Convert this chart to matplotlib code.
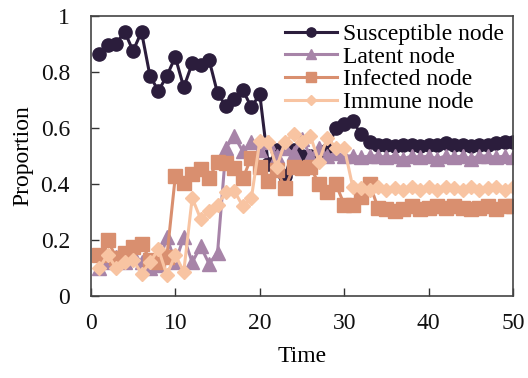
import matplotlib
matplotlib.use("Agg")
import matplotlib.pyplot as plt

t = list(range(1, 51))

susceptible = [0.864, 0.896, 0.90, 0.944, 0.875, 0.943, 0.786, 0.732, 0.786, 0.853,
               0.745, 0.83, 0.824, 0.843, 0.724, 0.677, 0.702, 0.735, 0.674, 0.72,
               0.47, 0.52, 0.43, 0.52, 0.50, 0.50, 0.49, 0.52, 0.60, 0.613,
               0.624, 0.577, 0.548, 0.54, 0.54, 0.535, 0.54, 0.54, 0.535, 0.54,
               0.54, 0.545, 0.54, 0.54, 0.535, 0.54, 0.54, 0.545, 0.55, 0.55]
latent = [0.10, 0.12, 0.14, 0.12, 0.15, 0.12, 0.10, 0.11, 0.21, 0.12,
          0.21, 0.12, 0.177, 0.115, 0.154, 0.53, 0.57, 0.516, 0.55, 0.52,
          0.55, 0.50, 0.53, 0.51, 0.56, 0.50, 0.53, 0.50, 0.51, 0.50,
          0.50, 0.495, 0.50, 0.50, 0.495, 0.50, 0.49, 0.50, 0.495, 0.50,
          0.49, 0.50, 0.495, 0.50, 0.49, 0.50, 0.50, 0.495, 0.50, 0.495]
infected = [0.147, 0.20, 0.136, 0.155, 0.176, 0.186, 0.13, 0.12, 0.14, 0.427,
            0.405, 0.434, 0.455, 0.42, 0.48, 0.476, 0.458, 0.42, 0.494, 0.46,
            0.41, 0.45, 0.386, 0.46, 0.458, 0.46, 0.40, 0.37, 0.40, 0.326,
            0.326, 0.355, 0.40, 0.315, 0.31, 0.305, 0.31, 0.32, 0.31, 0.315,
            0.32, 0.315, 0.32, 0.315, 0.31, 0.315, 0.32, 0.31, 0.32, 0.32]
immune = [0.10, 0.147, 0.10, 0.12, 0.13, 0.08, 0.12, 0.167, 0.075, 0.147,
          0.086, 0.35, 0.275, 0.305, 0.326, 0.37, 0.374, 0.32, 0.348, 0.553,
          0.55, 0.46, 0.55, 0.58, 0.55, 0.57, 0.48, 0.565, 0.53, 0.53,
          0.39, 0.385, 0.38, 0.39, 0.38, 0.385, 0.38, 0.39, 0.38, 0.39,
          0.38, 0.39, 0.385, 0.38, 0.39, 0.38, 0.385, 0.39, 0.38, 0.39]

labels = ["Susceptible node", "Latent node", "Infected node", "Immune node"]
colors = ["#2b1d3c", "#a784a8", "#d98f6f", "#f8c4a2"]
markers = ["o", "^", "s", "D"]
msizes = [9.5, 9.5, 9.5, 7.5]

plt.rcParams['font.family'] = ['Liberation Serif', 'DejaVu Serif']

fig = plt.figure(figsize=(5.28, 3.78), dpi=100)
ax = fig.add_axes([0.172, 0.217, 0.8, 0.741])

series = [susceptible, latent, infected, immune]
for vals, lab, c, m, ms in zip(series, labels, colors, markers, msizes):
    ax.plot(t, vals, color=c, marker=m, markersize=ms, linewidth=2.2, label=lab)

ax.set_xlim(0, 50)
ax.set_ylim(0, 1)
ax.set_xticks([0, 10, 20, 30, 40, 50])
ax.set_xticklabels(["0", "10", "20", "30", "40", "50"])
ax.set_yticks([0, 0.2, 0.4, 0.6, 0.8, 1.0])
ax.set_yticklabels(["0", "0.2", "0.4", "0.6", "0.8", "1"])
ax.tick_params(direction='in', length=6, width=1, labelsize=17, top=False, right=False,
               colors='#333333', labelcolor='#111111')
ax.tick_params(axis='x', pad=12)
ax.tick_params(axis='y', pad=15)
for s in ax.spines.values():
    s.set_color('#444444')
    s.set_linewidth(1.2)

ax.set_xlabel("Time", fontsize=17, labelpad=9)
ax.set_ylabel("Proportion", fontsize=17, labelpad=5)

ax.legend(loc='upper right', bbox_to_anchor=(1.005, 1.015), frameon=False,
          fontsize=17, labelspacing=0.05, handlelength=2.2, handletextpad=0.25,
          borderaxespad=0.1, markerscale=0.7)

fig.savefig("out.png", dpi=100)
